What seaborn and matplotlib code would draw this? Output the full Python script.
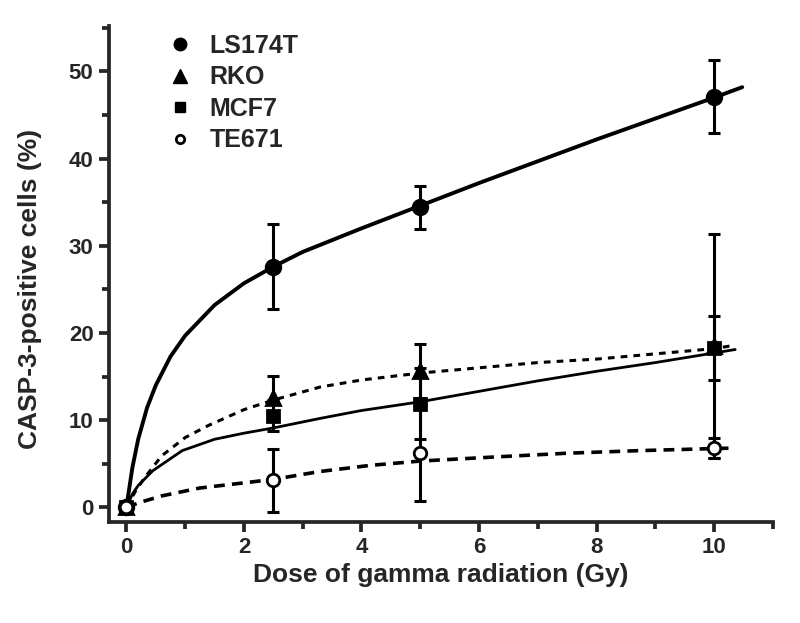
import numpy as np
import pandas as pd
import matplotlib
matplotlib.use("Agg")
import matplotlib.pyplot as plt
from matplotlib.lines import Line2D
from matplotlib.ticker import MultipleLocator
import seaborn as sns

# Measured points (dose in Gy, % CASP-3 positive cells, error)
dose = [0, 2.5, 5, 10]
ls174t = [0, 27.6, 34.4, 47.1]
ls174t_err = [0, 4.9, 2.5, 4.2]
rko = [0, 12.5, 15.6, 18.5]
rko_err = [0, 2.6, 3.1, 12.8]
mcf7 = [0, 10.5, 11.9, 18.3]
mcf7_err = [0, 1.8, 4.1, 3.7]
te671 = [0, 3.1, 6.2, 6.8]
te671_err = [0, 3.6, 5.5, 1.1]

# Fitted curves
ls_fit_x = [0, 0.1, 0.2, 0.35, 0.5, 0.75, 1.0, 1.5, 2.0, 2.5, 3, 4, 5, 6, 7, 8, 9, 10, 10.48]
ls_fit_y = [0, 4.5, 7.8, 11.4, 14.0, 17.3, 19.7, 23.2, 25.7, 27.6, 29.3, 32.0, 34.6, 37.2,
            39.7, 42.2, 44.6, 47.0, 48.2]
rko_fit_x = [0, 0.15, 0.3, 0.6, 1.0, 1.4, 2.0, 2.5, 3.3, 4, 5, 6, 7, 8, 9, 10, 10.36]
rko_fit_y = [0, 1.8, 3.3, 5.9, 8.0, 9.4, 11.2, 12.3, 13.8, 14.6, 15.4, 16.0, 16.6, 17.0,
             17.6, 18.2, 18.6]
mcf_fit_x = [0, 0.1, 0.2, 0.45, 0.95, 1.5, 2.0, 2.5, 3.3, 4, 5, 6, 7, 8, 9, 10, 10.36]
mcf_fit_y = [0, 1.5, 2.5, 4.2, 6.5, 7.8, 8.5, 9.1, 10.2, 11.1, 12.1, 13.3, 14.5, 15.6,
             16.6, 17.7, 18.1]
te_fit_x = [0, 0.25, 0.6, 1.24, 2.0, 2.5, 3.29, 4.14, 5, 6.35, 7.5, 8.74, 10.36]
te_fit_y = [0, 0.6, 1.3, 2.2, 2.8, 3.2, 4.1, 4.8, 5.3, 5.8, 6.2, 6.5, 6.8]

labels = ["LS174T", "RKO", "MCF7", "TE671"]

sns.set_style("ticks")
plt.rcParams["font.family"] = ["Liberation Sans", "DejaVu Sans"]
plt.rcParams["font.weight"] = "bold"

fig = plt.figure(figsize=(8, 6.23), dpi=100)
ax = fig.add_axes([0.136, 0.162, 0.830, 0.796])

lw_axis = 2.7

# fitted curves
sns.lineplot(x=ls_fit_x, y=ls_fit_y, ax=ax, color="black", lw=2.8, sort=False, zorder=2)
sns.lineplot(x=rko_fit_x, y=rko_fit_y, ax=ax, color="black", lw=2.2, sort=False, zorder=2,
             linestyle=(0, (2.2, 2.0)))
sns.lineplot(x=mcf_fit_x, y=mcf_fit_y, ax=ax, color="black", lw=2.0, sort=False, zorder=2)
sns.lineplot(x=te_fit_x, y=te_fit_y, ax=ax, color="black", lw=2.6, sort=False, zorder=2,
             linestyle=(0, (3.0, 2.0)))

# points with error bars
series = [
    (ls174t, ls174t_err, "o", "black", 10.5),
    (rko, rko_err, "^", "black", 10),
    (mcf7, mcf7_err, "s", "black", 8),
    (te671, te671_err, "o", "white", 9),
]
for vals, err, mk, fc, ms in series:
    ax.errorbar(dose, vals, yerr=err, fmt="none", ecolor="black", elinewidth=2.2,
                capsize=4, capthick=2.2, zorder=3)
    ax.plot(dose, vals, linestyle="none", marker=mk, markersize=ms,
            markerfacecolor=fc, markeredgecolor="black", markeredgewidth=2.0, zorder=4)

ax.set_xlim(-0.3, 11)
ax.set_ylim(-1.7, 55.2)
ax.xaxis.set_major_locator(MultipleLocator(2))
ax.yaxis.set_major_locator(MultipleLocator(10))
ax.set_yticks(np.arange(5, 56, 10), minor=True)
ax.set_xticks(np.arange(1, 12, 2), minor=True)

sns.despine(ax=ax)
for s in ["left", "bottom"]:
    ax.spines[s].set_linewidth(lw_axis)
ax.tick_params(which="major", length=7, width=lw_axis, labelsize=16, pad=4)
ax.tick_params(which="minor", length=5, width=lw_axis)
for lab in ax.get_xticklabels() + ax.get_yticklabels():
    lab.set_fontweight("bold")

ax.set_xlabel("Dose of gamma radiation (Gy)", fontsize=19, fontweight="bold", labelpad=3)
ax.set_ylabel("CASP-3-positive cells (%)", fontsize=19, fontweight="bold")
ax.yaxis.set_label_coords(-0.10, 0.47)

handles = [
    Line2D([], [], linestyle="none", marker="o", markersize=9, color="black"),
    Line2D([], [], linestyle="none", marker="^", markersize=10, color="black"),
    Line2D([], [], linestyle="none", marker="s", markersize=7.5, color="black"),
    Line2D([], [], linestyle="none", marker="o", markersize=6, markerfacecolor="white",
           markeredgecolor="black", markeredgewidth=2),
]
ax.legend(handles, labels, loc="upper left", bbox_to_anchor=(0.05, 1.03), frameon=False,
          handletextpad=0.6, labelspacing=0.3, handlelength=1.2,
          prop={"weight": "bold", "size": 18})

fig.savefig("out.png", dpi=100)
